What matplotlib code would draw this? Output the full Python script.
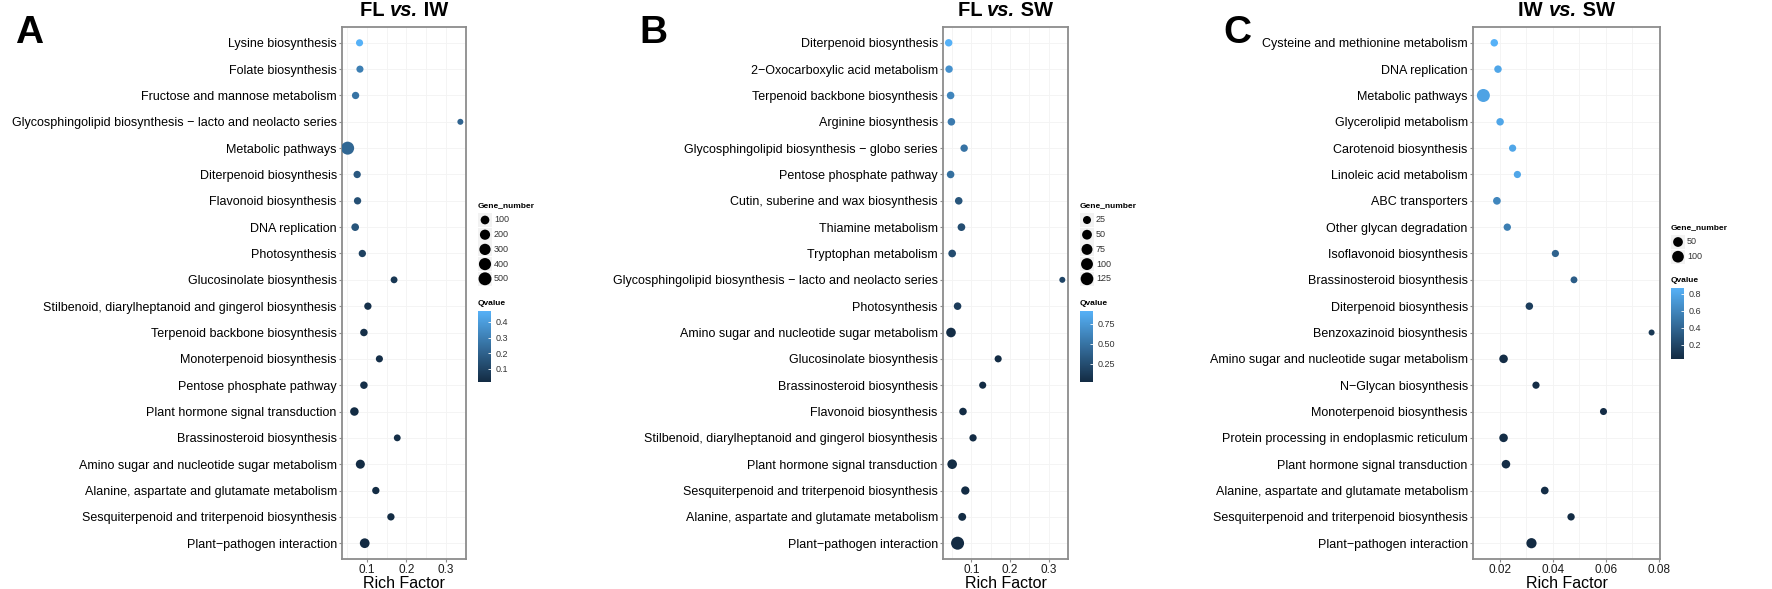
import numpy as np
import matplotlib
matplotlib.use('Agg')
import matplotlib.pyplot as plt
from matplotlib.cm import ScalarMappable
from matplotlib.colors import LinearSegmentedColormap, Normalize
from matplotlib.patches import Rectangle

plt.rcParams['font.family'] = 'Liberation Sans'

W, H, DPI = 1772, 589, 100

# ---------------------------------------------------------------------------
# data (top row first)

a_terms = [
    'Lysine biosynthesis', 'Folate biosynthesis',
    'Fructose and mannose metabolism',
    'Glycosphingolipid biosynthesis \u2212 lacto and neolacto series',
    'Metabolic pathways', 'Diterpenoid biosynthesis',
    'Flavonoid biosynthesis', 'DNA replication', 'Photosynthesis',
    'Glucosinolate biosynthesis',
    'Stilbenoid, diarylheptanoid and gingerol biosynthesis',
    'Terpenoid backbone biosynthesis', 'Monoterpenoid biosynthesis',
    'Pentose phosphate pathway', 'Plant hormone signal transduction',
    'Brassinosteroid biosynthesis',
    'Amino sugar and nucleotide sugar metabolism',
    'Alanine, aspartate and glutamate metabolism',
    'Sesquiterpenoid and triterpenoid biosynthesis',
    'Plant\u2212pathogen interaction']
a_rich = [0.082, 0.083, 0.072, 0.336, 0.052, 0.076, 0.077, 0.071, 0.089, 0.169,
          0.103, 0.093, 0.132, 0.093, 0.069, 0.177, 0.084, 0.123, 0.161, 0.095]
a_genes = [40, 40, 45, 28, 510, 45, 45, 55, 45, 35,
           45, 50, 40, 50, 90, 35, 120, 45, 45, 165]
a_qvalue = [0.47, 0.30, 0.26, 0.21, 0.22, 0.17, 0.14, 0.16, 0.09, 0.06,
            0.04, 0.03, 0.03, 0.03, 0.02, 0.03, 0.02, 0.02, 0.02, 0.017]

b_terms = [
    'Diterpenoid biosynthesis', '2\u2212Oxocarboxylic acid metabolism',
    'Terpenoid backbone biosynthesis', 'Arginine biosynthesis',
    'Glycosphingolipid biosynthesis \u2212 globo series',
    'Pentose phosphate pathway', 'Cutin, suberine and wax biosynthesis',
    'Thiamine metabolism', 'Tryptophan metabolism',
    'Glycosphingolipid biosynthesis \u2212 lacto and neolacto series',
    'Photosynthesis', 'Amino sugar and nucleotide sugar metabolism',
    'Glucosinolate biosynthesis', 'Brassinosteroid biosynthesis',
    'Flavonoid biosynthesis',
    'Stilbenoid, diarylheptanoid and gingerol biosynthesis',
    'Plant hormone signal transduction',
    'Sesquiterpenoid and triterpenoid biosynthesis',
    'Alanine, aspartate and glutamate metabolism',
    'Plant\u2212pathogen interaction']
b_rich = [0.041, 0.042, 0.046, 0.048, 0.081, 0.046, 0.067, 0.074, 0.050, 0.335,
          0.064, 0.047, 0.169, 0.129, 0.078, 0.104, 0.050, 0.084, 0.076, 0.064]
b_genes = [20, 20, 21, 21, 20, 21, 21, 22, 22, 15,
           21, 47, 18, 18, 21, 19, 47, 28, 24, 135]
b_qvalue = [0.91, 0.70, 0.62, 0.55, 0.50, 0.48, 0.30, 0.25, 0.24, 0.20,
            0.14, 0.04, 0.03, 0.03, 0.03, 0.03, 0.03, 0.03, 0.03, 0.025]

c_terms = [
    'Cysteine and methionine metabolism', 'DNA replication',
    'Metabolic pathways', 'Glycerolipid metabolism',
    'Carotenoid biosynthesis', 'Linoleic acid metabolism',
    'ABC transporters', 'Other glycan degradation',
    'Isoflavonoid biosynthesis', 'Brassinosteroid biosynthesis',
    'Diterpenoid biosynthesis', 'Benzoxazinoid biosynthesis',
    'Amino sugar and nucleotide sugar metabolism',
    'N\u2212Glycan biosynthesis', 'Monoterpenoid biosynthesis',
    'Protein processing in endoplasmic reticulum',
    'Plant hormone signal transduction',
    'Alanine, aspartate and glutamate metabolism',
    'Sesquiterpenoid and triterpenoid biosynthesis',
    'Plant\u2212pathogen interaction']
c_rich = [0.0180, 0.0194, 0.0139, 0.0202, 0.0249, 0.0267, 0.0190, 0.0229,
          0.0410, 0.0480, 0.0312, 0.0772, 0.0215, 0.0337, 0.0591, 0.0215,
          0.0224, 0.0370, 0.0469, 0.0320]
c_genes = [18, 18, 145, 18, 16, 16, 20, 17, 16, 14,
           18, 12, 30, 16, 15, 30, 30, 20, 17, 60]
c_qvalue = [0.87, 0.80, 0.78, 0.80, 0.80, 0.80, 0.60, 0.55, 0.38, 0.35,
            0.15, 0.12, 0.05, 0.05, 0.05, 0.05, 0.05, 0.05, 0.04, 0.035]

a_xticks = [0.1, 0.2, 0.3]
b_xticks = [0.1, 0.2, 0.3]
c_xticks = [0.02, 0.04, 0.06, 0.08]
a_size_breaks = [100, 200, 300, 400, 500]
b_size_breaks = [25, 50, 75, 100, 125]
c_size_breaks = [50, 100]
a_q_breaks = [0.1, 0.2, 0.3, 0.4]
b_q_breaks = [0.25, 0.50, 0.75]
c_q_breaks = [0.2, 0.4, 0.6, 0.8]

# ---------------------------------------------------------------------------
# layout in pixels of the full picture

panels = [
    dict(letter='A', title=('FL', 'IW'), terms=a_terms, rich=a_rich,
         genes=a_genes, q=a_qvalue, xticks=a_xticks, xfmt='{:.1f}',
         sizes=a_size_breaks, qticks=a_q_breaks, qfmt='{:.1f}',
         box=(342, 466), letter_x=15, leg_x=478, leg_y=207, bar=(311, 382)),
    dict(letter='B', title=('FL', 'SW'), terms=b_terms, rich=b_rich,
         genes=b_genes, q=b_qvalue, xticks=b_xticks, xfmt='{:.1f}',
         sizes=b_size_breaks, qticks=b_q_breaks, qfmt='{:.2f}',
         box=(943, 1068), letter_x=639, leg_x=1080, leg_y=207, bar=(311, 382)),
    dict(letter='C', title=('IW', 'SW'), terms=c_terms, rich=c_rich,
         genes=c_genes, q=c_qvalue, xticks=c_xticks, xfmt='{:.2f}',
         sizes=c_size_breaks, qticks=c_q_breaks, qfmt='{:.1f}',
         box=(1473, 1660), letter_x=1223, leg_x=1671, leg_y=229, bar=(288, 359)),
]
TOP, BOTTOM = 27, 559

cmap = LinearSegmentedColormap.from_list('gg', ['#132B43', '#56B1F7'])


def dot_px(g, gmin, gmax):
    # ggplot-like area scale: diameter grows with sqrt of the value
    g = np.asarray(g, dtype=float)
    return 6.0 + 7.0 * np.sqrt(np.clip((g - gmin) / (gmax - gmin), 0, 1))


def dot_s(g, gmin, gmax):
    return (dot_px(g, gmin, gmax) * 72 / DPI) ** 2


fig = plt.figure(figsize=(W / DPI, H / DPI), dpi=DPI)
fig.patch.set_facecolor('white')
renderer = fig.canvas.get_renderer()

overlay = fig.add_axes([0, 0, 1, 1], zorder=5)
overlay.set_xlim(0, W)
overlay.set_ylim(H, 0)
overlay.axis('off')


def title_parts(xc, y, left, right):
    # "FL vs. IW": bold, with the "vs." in bold italic
    parts = [(left + ' ', 'normal'), ('vs.', 'italic'), (' ' + right, 'normal')]
    texts = [overlay.text(0, y, s, fontsize=14.5, fontweight='bold', style=st,
                          ha='left', va='baseline') for s, st in parts]
    widths = [t.get_window_extent(renderer).width for t in texts]
    x = xc - sum(widths) / 2
    for t, w in zip(texts, widths):
        t.set_x(x)
        x += w


for p in panels:
    x0, x1 = p['box']
    ax = fig.add_axes([x0 / W, 1 - BOTTOM / H, (x1 - x0) / W, (BOTTOM - TOP) / H])
    n = len(p['terms'])
    ypos = np.arange(n)[::-1]
    gmin, gmax = min(p['genes']), max(p['genes'])
    norm = Normalize(min(p['q']), max(p['q']))

    ax.scatter(p['rich'], ypos, s=dot_s(p['genes'], gmin, gmax), c=p['q'],
               cmap=cmap, norm=norm, linewidths=0, zorder=3)

    lo, hi = min(p['rich']), max(p['rich'])
    pad = 0.05 * (hi - lo)
    ax.set_xlim(lo - pad, hi + pad)
    ax.set_ylim(-0.6, n - 0.4)

    xt = p['xticks']
    ax.set_xticks(xt)
    ax.set_xticklabels([p['xfmt'].format(v) for v in xt])
    step = xt[1] - xt[0]
    ax.set_xticks(np.arange(xt[0] - step / 2, hi + pad, step), minor=True)
    ax.set_yticks(ypos)
    ax.set_yticklabels(p['terms'])

    ax.grid(True, which='both', color='#F3F3F3', linewidth=0.6, zorder=0)
    ax.set_axisbelow(True)
    for sp in ax.spines.values():
        sp.set_color('#8C8C8C')
        sp.set_linewidth(1.3)
    ax.tick_params(which='major', length=2.2, width=0.8, color='#8C8C8C', pad=1.5)
    ax.tick_params(which='minor', length=0)
    ax.tick_params(axis='y', labelsize=9, labelcolor='black')
    ax.tick_params(axis='x', labelsize=8.5, labelcolor='#1A1A1A')

    xc = (x0 + x1) / 2
    title_parts(xc, 16, *p['title'])
    fig.text(xc / W, 1 / H, 'Rich Factor', fontsize=11.5, ha='center',
             va='baseline')
    fig.text(p['letter_x'] / W, 1 - 43 / H, p['letter'], fontsize=28,
             fontweight='bold', ha='left', va='baseline')

    # size legend
    lx, ly = p['leg_x'], p['leg_y']
    overlay.text(lx, ly, 'Gene_number', fontsize=6, fontweight='bold',
                 ha='left', va='baseline')
    rows = ly + 13 + 14.7 * np.arange(len(p['sizes']))
    for r in rows:
        overlay.add_patch(Rectangle((lx, r - 7), 14, 14, facecolor='#F2F2F2',
                                    edgecolor='none', zorder=1))
    overlay.scatter(np.full(len(rows), lx + 7), rows,
                    s=dot_s(p['sizes'], gmin, gmax), color='black',
                    linewidths=0, zorder=2)
    for r, v in zip(rows, p['sizes']):
        overlay.text(lx + 16, r, str(v), fontsize=6.5, color='#333333',
                     ha='left', va='center')

    # colour legend
    bt, bb = p['bar']
    overlay.text(lx, bt - 6, 'Qvalue', fontsize=6, fontweight='bold',
                 ha='left', va='baseline')
    cax = fig.add_axes([lx / W, 1 - bb / H, 13 / W, (bb - bt) / H])
    cb = fig.colorbar(ScalarMappable(norm=norm, cmap=cmap), cax=cax)
    cb.outline.set_visible(False)
    cb.set_ticks(p['qticks'])
    cb.set_ticklabels([p['qfmt'].format(v) for v in p['qticks']])
    cax.tick_params(length=2.5, width=0.6, direction='in', color='white',
                    labelsize=6.5, labelcolor='#333333', pad=3)

fig.savefig('out.png', dpi=DPI, facecolor='white')
